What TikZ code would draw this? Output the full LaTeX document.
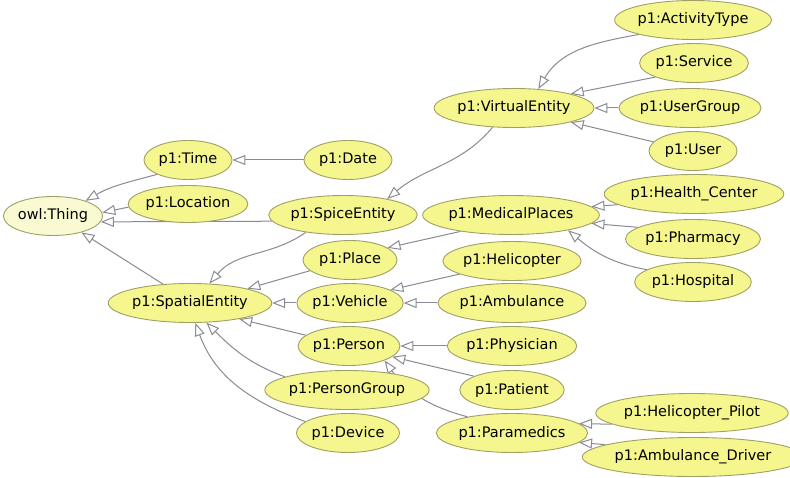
\documentclass[tikz,border=0pt]{standalone}
\usepackage{fontspec}
\setmainfont{DejaVu Sans}
\usetikzlibrary{shapes,arrows.meta}
\pgfdeclarelayer{background}
\pgfsetlayers{background,main}
\definecolor{clsfill}{RGB}{246,246,142}
\definecolor{topfill}{RGB}{250,250,210}
\definecolor{clsline}{RGB}{160,160,100}
\definecolor{isaline}{RGB}{138,138,150}

\begin{document}
\begin{tikzpicture}[x=1pt, y=1pt,
    cls/.style={ellipse, draw=clsline, fill=clsfill, line width=0.9pt, inner sep=0pt,
        minimum height=39, font=\fontsize{14.5}{16}\selectfont},
    isa/.style={draw=isaline, line width=1pt, -{Triangle[length=13pt,width=10pt,fill=white]}}]
    \useasboundingbox (0,0) rectangle (790,-478);

%top class
    \node[cls, fill=topfill, minimum width=92] (thing) at (53,-216) {owl:Thing};

%first level
    \node[cls, minimum width=88] (time) at (188,-160) {p1:Time};
    \node[cls, minimum width=112, minimum height=37] (location) at (188,-204) {p1:Location};
    \node[cls, minimum width=126] (spice) at (343,-215) {p1:SpiceEntity};
    \node[cls, minimum width=154] (spatial) at (190,-303) {p1:SpatialEntity};

%middle column
    \node[cls, minimum width=88] (date) at (348,-160) {p1:Date};
    \node[cls, minimum width=94] (place) at (350,-260) {p1:Place};
    \node[cls, minimum width=104] (vehicle) at (350,-303) {p1:Vehicle};
    \node[cls, minimum width=100] (person) at (349,-346) {p1:Person};
    \node[cls, minimum width=136] (pgroup) at (347,-390) {p1:PersonGroup};
    \node[cls, minimum width=100] (device) at (348,-433) {p1:Device};

%second column
    \node[cls, minimum width=144] (virtual) at (514,-108) {p1:VirtualEntity};
    \node[cls, minimum width=152] (medical) at (511,-215) {p1:MedicalPlaces};
    \node[cls, minimum width=126] (helicopter) at (512,-261) {p1:Helicopter};
    \node[cls, minimum width=132] (ambulance) at (512,-303) {p1:Ambulance};
    \node[cls, minimum width=120] (physician) at (512,-346) {p1:Physician};
    \node[cls, minimum width=104] (patient) at (512,-390) {p1:Patient};
    \node[cls, minimum width=138] (paramedics) at (512,-433) {p1:Paramedics};

%right column
    \node[cls, minimum width=140] (activity) at (693,-20) {p1:ActivityType};
    \node[cls, minimum width=108] (service) at (694,-63) {p1:Service};
    \node[cls, minimum width=124] (usergroup) at (690,-108) {p1:UserGroup};
    \node[cls, minimum width=88] (user) at (693,-151) {p1:User};
    \node[cls, minimum width=158] (health) at (694,-194) {p1:Health\_Center};
    \node[cls, minimum width=126] (pharmacy) at (693,-239) {p1:Pharmacy};
    \node[cls, minimum width=110] (hospital) at (693,-282) {p1:Hospital};
    \node[cls, minimum width=168] (hpilot) at (692,-413) {p1:Helicopter\_Pilot};
    \node[cls, minimum width=180] (adriver) at (693,-457) {p1:Ambulance\_Driver};

\begin{pgfonlayer}{background}
    \fill[white] (0,0) rectangle (790,-478);
%subclass links
    \draw[isa] (time.205) to[out=195,in=30] (thing.25);
    \draw[isa] (location.183) -- (thing.4);
    \draw[isa] (spice.185) -- (thing.-7);
    \draw[isa] (spatial.145) -- (thing.-30);
    \draw[isa] (date) -- (time);

    \draw[isa] (virtual.222) to[out=230,in=40] (spice.20);
    \draw[isa] (activity.195) to[out=190,in=60] (virtual.38);
    \draw[isa] (service.200) -- (virtual.14);
    \draw[isa] (usergroup) -- (virtual);
    \draw[isa] (user.167) -- (virtual.-14);

    \draw[isa] (health.188) -- (medical.6);
    \draw[isa] (pharmacy.168) -- (medical.-6);
    \draw[isa] (hospital.165) to[out=170,in=-40] (medical.-15);
    \draw[isa] (medical.198) -- (place.18);

    \draw[isa] (place.195) -- (spatial.14);
    \draw[isa] (spice.205) to[out=215,in=50] (spatial.45);
    \draw[isa] (helicopter.194) -- (vehicle.18);
    \draw[isa] (ambulance) -- (vehicle);
    \draw[isa] (vehicle) -- (spatial);
    \draw[isa] (person.166) -- (spatial.-18);
    \draw[isa] (pgroup.168) to[out=160,in=-45] (spatial.-50);
    \draw[isa] (device.165) to[out=160,in=-70] (spatial.-75);

    \draw[isa] (physician) -- (person);
    \draw[isa] (patient.160) -- (person.-14);
    \draw[isa] (paramedics.160) to[out=165,in=-55] (person.-22);
    \draw[isa] (hpilot.188) -- (paramedics.8);
    \draw[isa] (adriver.172) -- (paramedics.-8);
\end{pgfonlayer}

\end{tikzpicture}
\end{document}
